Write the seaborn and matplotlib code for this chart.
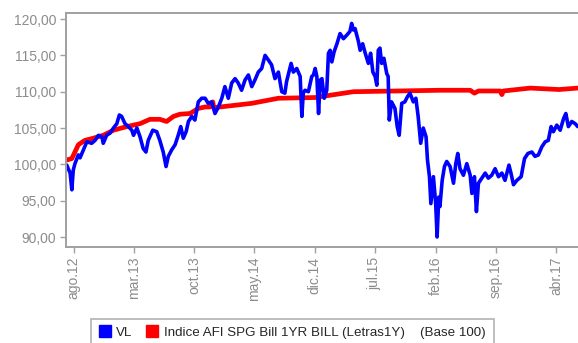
import matplotlib
matplotlib.use("Agg")
import matplotlib.pyplot as plt
import matplotlib.dates as mdates
from matplotlib.ticker import FuncFormatter, FixedLocator
from matplotlib.lines import Line2D
import seaborn as sns
import pandas as pd

# Fund net asset value (VL), base 100
vl_dates = [
    "2012-07-07", "2012-07-19", "2012-07-25", "2012-07-30", "2012-08-05", "2012-08-17",
    "2012-08-23", "2012-09-04", "2012-09-16", "2012-10-03", "2012-10-15", "2012-10-27",
    "2012-11-08", "2012-11-13", "2012-11-25", "2012-12-07", "2012-12-19", "2012-12-31",
    "2013-01-09", "2013-01-17", "2013-01-29", "2013-02-10", "2013-02-22", "2013-02-28",
    "2013-03-12", "2013-03-23", "2013-04-03", "2013-04-13", "2013-04-21", "2013-05-07",
    "2013-05-21", "2013-06-01", "2013-06-13", "2013-06-23", "2013-07-01", "2013-07-13",
    "2013-07-25", "2013-08-05", "2013-08-14", "2013-08-23", "2013-09-02", "2013-09-10",
    "2013-09-22", "2013-10-03", "2013-10-15", "2013-10-27", "2013-11-08", "2013-11-19",
    "2013-12-01", "2013-12-13", "2013-12-25", "2014-01-06", "2014-01-17", "2014-01-29",
    "2014-02-10", "2014-02-22", "2014-03-05", "2014-03-17", "2014-03-29", "2014-04-10",
    "2014-04-22", "2014-05-03", "2014-05-15", "2014-05-27", "2014-06-08", "2014-06-19",
    "2014-07-01", "2014-07-13", "2014-07-25", "2014-08-06", "2014-08-17", "2014-08-23",
    "2014-09-08", "2014-09-16", "2014-09-28", "2014-10-10", "2014-10-16", "2014-10-21",
    "2014-10-27", "2014-11-08", "2014-11-20", "2014-11-26", "2014-12-02", "2014-12-08",
    "2014-12-14", "2014-12-20", "2014-12-26", "2015-01-03", "2015-01-12", "2015-01-18",
    "2015-01-24", "2015-01-30", "2015-02-07", "2015-02-17", "2015-02-28", "2015-03-12",
    "2015-03-24", "2015-04-04", "2015-04-10", "2015-04-16", "2015-04-22", "2015-05-04",
    "2015-05-10", "2015-05-19", "2015-05-28", "2015-06-08", "2015-06-16", "2015-06-24",
    "2015-07-02", "2015-07-08", "2015-07-13", "2015-07-19", "2015-07-25", "2015-08-02",
    "2015-08-12", "2015-08-17", "2015-08-21", "2015-08-29", "2015-09-10", "2015-09-18",
    "2015-09-25", "2015-10-04", "2015-10-15", "2015-10-24", "2015-11-02", "2015-11-14",
    "2015-11-23", "2015-12-01", "2015-12-10", "2015-12-19", "2015-12-29", "2016-01-03",
    "2016-01-10", "2016-01-15", "2016-01-24", "2016-02-01", "2016-02-06", "2016-02-12",
    "2016-02-16", "2016-02-24", "2016-03-03", "2016-03-11", "2016-03-23", "2016-04-04",
    "2016-04-12", "2016-04-19", "2016-04-27", "2016-05-09", "2016-05-21", "2016-06-02",
    "2016-06-08", "2016-06-17", "2016-06-24", "2016-07-01", "2016-07-13", "2016-07-25",
    "2016-08-05", "2016-08-17", "2016-08-29", "2016-09-10", "2016-09-22", "2016-10-03",
    "2016-10-17", "2016-10-24", "2016-11-02", "2016-11-14", "2016-11-29", "2016-12-11",
    "2016-12-23", "2017-01-06", "2017-01-17", "2017-01-29", "2017-02-10", "2017-02-22",
    "2017-03-05", "2017-03-15", "2017-03-23", "2017-04-04", "2017-04-16", "2017-04-28",
    "2017-05-06", "2017-05-15", "2017-05-27", "2017-06-08", "2017-06-17",
]
vl_values = [
    99.9, 98.8, 96.5, 99.2, 100.1, 101.3,
    100.9, 102.0, 103.1, 102.9, 103.3, 104.0,
    103.8, 102.9, 104.0, 104.3, 105.0, 105.6,
    106.8, 106.6, 105.6, 105.2, 104.7, 104.0,
    105.0, 103.8, 102.2, 101.7, 103.3, 104.7,
    104.5, 103.3, 101.7, 99.7, 101.1, 102.0,
    102.7, 104.0, 105.2, 103.6, 104.5, 105.9,
    106.6, 106.1, 108.6, 109.1, 109.1, 108.4,
    108.6, 107.0, 107.9, 109.1, 110.7, 109.1,
    111.2, 111.8, 111.2, 110.2, 111.6, 112.3,
    110.7, 111.6, 112.7, 113.2, 115.0, 114.4,
    113.7, 111.8, 112.7, 110.0, 109.8, 111.4,
    113.9, 112.7, 113.2, 112.1, 106.6, 109.8,
    110.2, 110.0, 112.1, 112.3, 113.2, 112.1,
    107.0, 111.6, 111.8, 109.1, 110.2, 115.3,
    115.7, 114.1, 115.5, 116.6, 118.0, 117.3,
    117.8, 118.3, 119.4, 118.5, 118.7, 116.9,
    115.7, 116.6, 115.3, 113.9, 115.3, 112.7,
    112.1, 110.9, 115.7, 116.0, 113.9, 114.6,
    112.5, 112.1, 106.1, 108.6, 107.7, 105.2,
    104.0, 108.4, 108.6, 109.3, 109.8, 108.6,
    109.1, 106.6, 102.9, 105.0, 103.8, 100.6,
    98.3, 94.6, 98.3, 94.6, 90.0, 95.5,
    94.2, 97.8, 99.7, 100.4, 99.7, 97.4,
    100.1, 101.5, 99.4, 98.5, 100.1, 98.5,
    96.0, 98.3, 93.5, 97.4, 98.1, 98.8,
    98.1, 98.5, 99.4, 98.3, 98.8, 97.8,
    99.9, 98.8, 97.2, 97.8, 98.3, 100.8,
    101.5, 101.7, 101.1, 101.3, 102.4, 103.1,
    103.3, 105.2, 104.5, 105.4, 104.7, 106.3,
    107.0, 105.2, 105.9, 105.6, 105.2,
]

# Benchmark: AFI SPG 1-year T-bill index, base 100
idx_dates = [
    "2012-07-07", "2012-07-25", "2012-08-05", "2012-08-17", "2012-09-09", "2012-10-09",
    "2012-11-13", "2012-12-19", "2013-02-04", "2013-03-23", "2013-04-27", "2013-06-01",
    "2013-06-25", "2013-07-19", "2013-08-11", "2013-09-16", "2013-10-15", "2013-11-08",
    "2013-11-25", "2013-12-05", "2013-12-09", "2014-04-22", "2014-07-25", "2014-12-02",
    "2015-04-16", "2016-02-16", "2016-06-02", "2016-06-17", "2016-07-01", "2016-09-16",
    "2016-09-22", "2016-09-27", "2016-12-31", "2017-04-12", "2017-06-17",
]
idx_values = [
    100.6, 100.8, 101.7, 102.7, 103.3, 103.6,
    104.0, 104.7, 105.2, 105.6, 106.2, 106.2,
    105.9, 106.6, 106.9, 107.0, 107.7, 107.9,
    107.9, 108.6, 107.8, 108.4, 109.1, 109.2,
    110.0, 110.2, 110.2, 109.8, 110.1, 110.1,
    109.6, 110.1, 110.5, 110.3, 110.5,
]

tick_dates = ["2012-08-01", "2013-03-01", "2013-10-01", "2014-05-01", "2014-12-01",
              "2015-07-01", "2016-02-01", "2016-09-01", "2017-04-01"]
tick_labels = ["ago.12", "mar.13", "oct.13", "may.14", "dic.14",
               "jul.15", "feb.16", "sep.16", "abr.17"]

vl_name = "VL"
idx_name = "Indice AFI SPG Bill 1YR BILL (Letras1Y)"
base_note = "(Base 100)"

sns.set_style("white")
plt.rcParams["font.family"] = ["Liberation Sans", "DejaVu Sans"]

vl = pd.DataFrame({"fecha": pd.to_datetime(vl_dates), "valor": vl_values})
idx = pd.DataFrame({"fecha": pd.to_datetime(idx_dates), "valor": idx_values})

fig = plt.figure(figsize=(5.78, 3.43), dpi=100)
ax = fig.add_axes([0.114, 0.280, 0.886, 0.682])

sns.lineplot(data=idx, x="fecha", y="valor", ax=ax, color="#ff0000", lw=3.4)
sns.lineplot(data=vl, x="fecha", y="valor", ax=ax, color="#0000ff", lw=2.6)

ax.set_xlim(pd.Timestamp("2012-07-04"), pd.Timestamp("2017-06-18"))
ax.set_ylim(88.63, 120.83)
ax.set_xlabel("")
ax.set_ylabel("")

ax.yaxis.set_major_locator(FixedLocator([90, 95, 100, 105, 110, 115, 120]))
ax.yaxis.set_major_formatter(FuncFormatter(lambda v, p: f"{v:.2f}".replace(".", ",")))
ax.set_xticks(mdates.date2num(pd.to_datetime(tick_dates)))
ax.set_xticklabels(tick_labels, rotation=90)

grey = "#8c8c8c"
for side in ["left", "bottom", "top"]:
    ax.spines[side].set_color("#a0a0a0")
    ax.spines[side].set_linewidth(1.4)
ax.spines["right"].set_visible(False)
ax.tick_params(axis="both", which="major", direction="out", length=4, width=1.0,
               color="#a0a0a0", labelcolor=grey, labelsize=10, pad=3)
ax.tick_params(axis="x", bottom=True)
ax.tick_params(axis="y", left=True)

handles = [
    Line2D([], [], marker="s", color="#0000ff", lw=0, markersize=8),
    Line2D([], [], marker="s", color="#ff0000", lw=0, markersize=8),
]
labels = [vl_name, f"{idx_name}    {base_note}"]
leg = fig.legend(handles, labels, loc="upper center", bbox_to_anchor=(0.506, 0.071),
                 borderaxespad=0.0, ncol=2, frameon=True, fancybox=False, fontsize=9.6,
                 handlelength=0.8, handletextpad=0.45, columnspacing=1.1,
                 borderpad=0.6, edgecolor="#a0a0a0")
leg.get_frame().set_linewidth(1.2)

fig.savefig("out.png", dpi=100)
